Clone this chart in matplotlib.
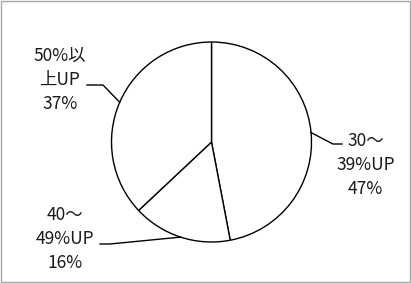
import matplotlib.pyplot as plt
import numpy as np
from matplotlib.patches import Rectangle

# Data
labels = ["30～\n39%UP\n47%", "40～\n49%UP\n16%", "50%以\n上UP\n37%"]
shares = [47, 16, 37]

plt.rcParams['font.family'] = ['Noto Sans CJK JP', 'DejaVu Sans']

# label layout (data units, radius = 1)
text_pos = [(1.54, -0.23), (-1.465, -0.97), (-1.515, 0.62)]
knee_pos = [(1.215, -0.02), (-1.015, -1.02), (-1.085, 0.57)]
end_pos = [(1.305, -0.02), (-1.115, -1.02), (-1.245, 0.57)]

fig = plt.figure(figsize=(4.11, 2.83), dpi=100)
ax = fig.add_axes([0, 0, 1, 1])

wedges, _ = ax.pie(shares, startangle=90, counterclock=False, radius=1,
                   wedgeprops=dict(facecolor='white', edgecolor='black', linewidth=1.0))

for w, lab, tp, kp, ep in zip(wedges, labels, text_pos, knee_pos, end_pos):
    mid = np.deg2rad((w.theta1 + w.theta2) / 2)
    x0, y0 = np.cos(mid), np.sin(mid)
    ax.plot([x0, kp[0], ep[0]], [y0, kp[1], ep[1]], color='black', lw=1.0)
    ax.text(tp[0], tp[1], lab, ha='center', va='center', fontsize=12.5,
            color='#1a1a1a', linespacing=1.43)

ax.set_xlim(-2.115, 1.995)
ax.set_ylim(-1.41, 1.42)
ax.set_aspect('equal')
ax.axis('off')

fig.patches.append(Rectangle((0.002, 0.003), 0.995, 0.993, transform=fig.transFigure,
                             fill=False, edgecolor='#a6a6a6', linewidth=1.0))

fig.savefig('out.png', dpi=100)
